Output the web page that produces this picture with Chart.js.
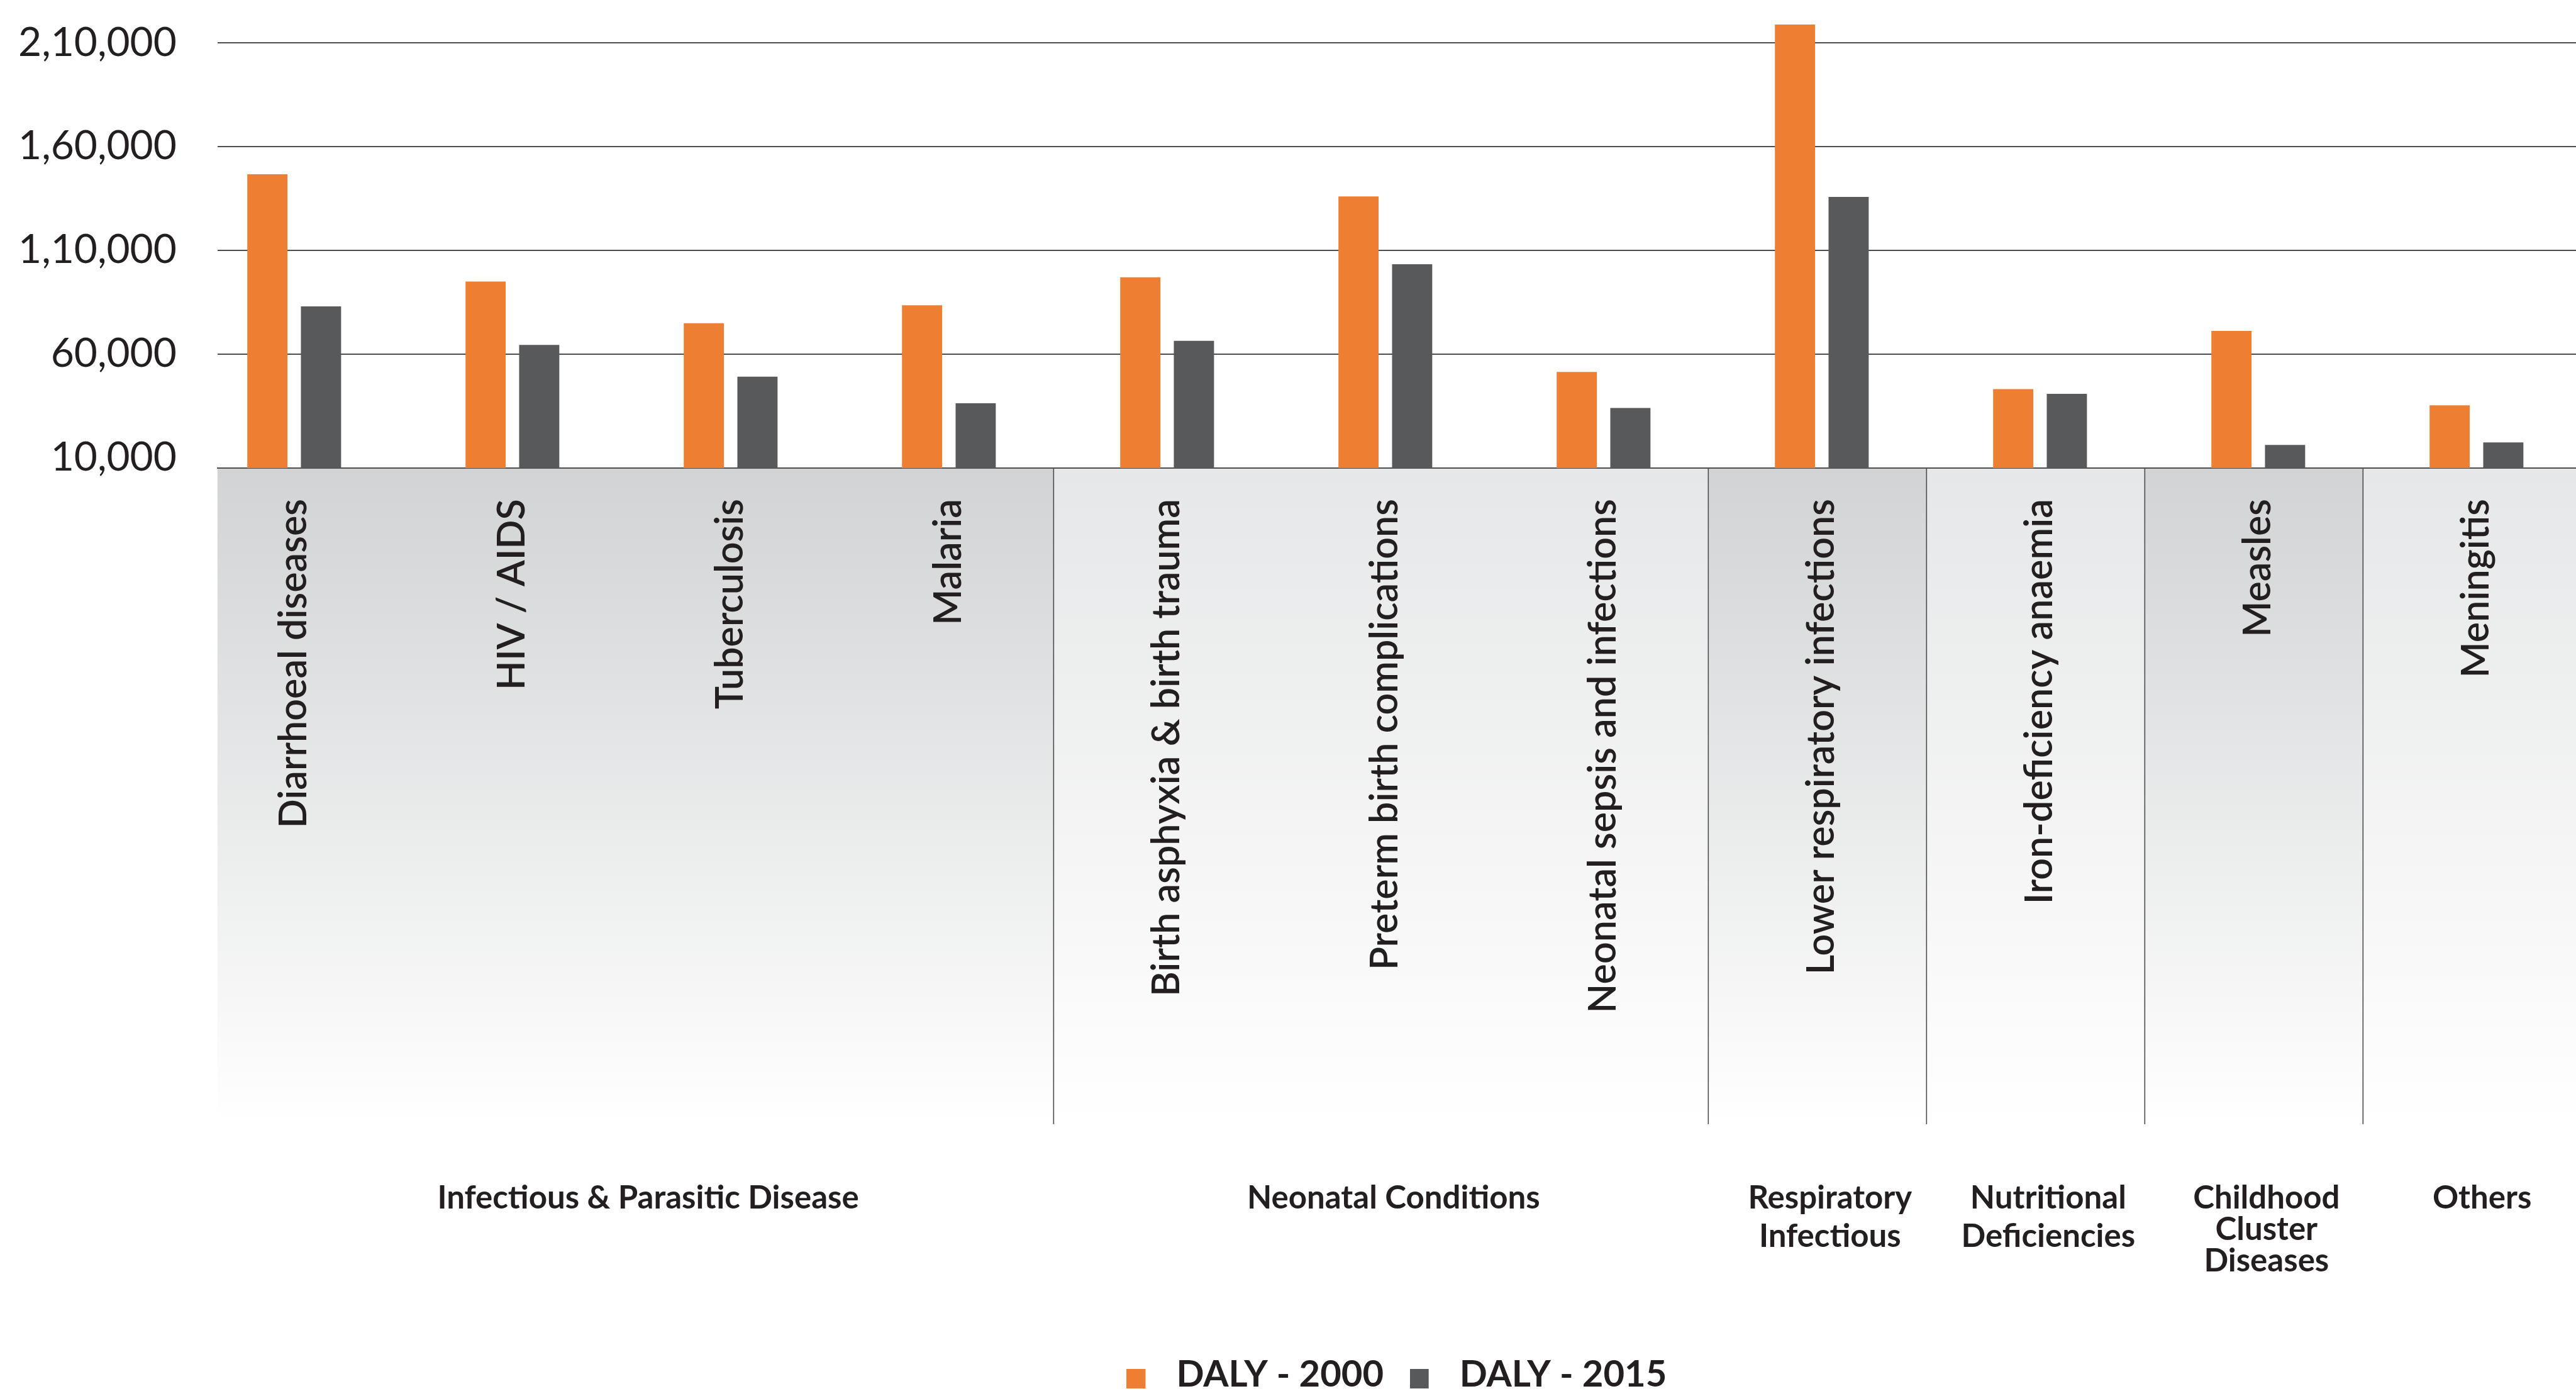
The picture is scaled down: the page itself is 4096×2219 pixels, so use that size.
<!DOCTYPE html>
<html>
<head>
<meta charset="utf-8">
<title>DALY 2000 vs 2015</title>
<script src="https://cdn.jsdelivr.net/npm/chart.js@4.4.1/dist/chart.umd.min.js"></script>
<style>
  html, body { margin: 0; padding: 0; background: #fff; overflow: hidden; }
  #wrap { width: 4096px; height: 2219px; }
</style>
</head>
<body>
<div id="wrap"><canvas id="chart" width="4096" height="2219"></canvas></div>
<script>
const categories = [
  'Diarrhoeal diseases', 'HIV / AIDS', 'Tuberculosis', 'Malaria',
  'Birth asphyxia & birth trauma', 'Preterm birth complications', 'Neonatal sepsis and infections',
  'Lower respiratory infections', 'Iron-deficiency anaemia', 'Measles', 'Meningitis',
];
const daly2000 = [146700, 95000, 74900, 83500, 97000, 136000, 51400, 218900, 43100, 71200, 35300];
const daly2015 = [83000, 64400, 49100, 36300, 66400, 103300, 34000, 135800, 40800, 16200, 17400];

// groups of categories, in order, and their (multi-line) names
const groupSizes = [4, 3, 1, 1, 1, 1];
const groupNames = [
  ['Infectious & Parasitic Disease'],
  ['Neonatal Conditions'],
  ['Respiratory', 'Infectious'],
  ['Nutritional', 'Deficiencies'],
  ['Childhood', 'Cluster', 'Diseases'],
  ['Others'],
];

const yTicks = [10000, 60000, 110000, 160000, 210000];
const yTickLabels = ['10,000', '60,000', '1,10,000', '1,60,000', '2,10,000'];

const ORANGE = '#ee7f32';
const GREY = '#58595b';
const TEXT = '#231f20';
const LINE = '#4d4d4f';

// legend swatch: square on the left, transparent gap on the right
function swatch (color) {
  const c = document.createElement('canvas');
  c.width = 50;
  c.height = 43;
  const g = c.getContext('2d');
  g.fillStyle = color;
  g.fillRect(0, 12, 30, 31);
  return c;
}

const groupBands = {
  id: 'groupBands',
  beforeDraw (chart) {
    const { ctx, chartArea, scales: { x } } = chart;
    const top = chartArea.bottom;
    const bottom = top + 1043;
    ctx.save();

    let start = 0;
    const bands = [];
    groupSizes.forEach((size, g) => {
      const end = start + size - 1;
      const left = g === 0 ? chartArea.left : x.getPixelForValue(start - 0.52);
      const right = g === groupSizes.length - 1 ? chartArea.right : x.getPixelForValue(end + 0.48);
      const fill = ctx.createLinearGradient(0, top, 0, bottom);
      fill.addColorStop(0, g % 2 === 0 ? '#d1d3d4' : '#e6e7e8');
      fill.addColorStop(1, '#ffffff');
      ctx.fillStyle = fill;
      ctx.fillRect(left, top, right - left, bottom - top);
      bands.push({ left, right });
      start += size;
    });

    // separators between groups
    ctx.strokeStyle = LINE;
    ctx.lineWidth = 1.6;
    bands.slice(1).forEach(({ left }) => {
      ctx.beginPath();
      ctx.moveTo(left, top);
      ctx.lineTo(left, bottom);
      ctx.stroke();
    });

    // group names under the bands
    ctx.fillStyle = TEXT;
    ctx.font = '700 51px Lato';
    ctx.textAlign = 'center';
    ctx.textBaseline = 'alphabetic';
    groupNames.forEach((lines, g) => {
      const cx = (bands[g].left + bands[g].right) / 2 + 20;
      const gap = lines.length > 2 ? 50 : 61;
      lines.forEach((line, k) => {
        ctx.fillText(line, cx, top + 1177 + k * gap);
      });
    });
    ctx.restore();
  },
};

const chart = new Chart(
  document.getElementById('chart'),
  {
    type: 'bar',
    data: {
      datasets: [
        {
          label: 'DALY - 2000',
          data: daly2000.map((v, i) => ({ x: i, y: v })),
          backgroundColor: ORANGE,
        },
        {
          label: 'DALY - 2015',
          data: daly2015.map((v, i) => ({ x: i, y: v })),
          backgroundColor: GREY,
        },
      ],
    },
    options: {
      responsive: false,
      animation: false,
      categoryPercentage: 0.4915,
      barPercentage: 0.749,
      layout: {
        padding: { top: 35.4, bottom: -5.5, left: 0, right: 0 },
      },
      scales: {
        x: {
          type: 'linear',
          min: -0.3515,
          max: 10.456,
          offset: false,
          grid: { display: false, drawTicks: false, offset: false },
          border: { display: true, color: LINE, width: 2 },
          afterBuildTicks (scale) {
            scale.ticks = categories.map((_, i) => ({ value: i }));
          },
          afterFit (scale) {
            scale.height = 1370.9;
          },
          ticks: {
            autoSkip: false,
            minRotation: 90,
            maxRotation: 90,
            padding: 49,
            color: TEXT,
            font: { family: 'Lato', size: 61, weight: 600 },
            callback: (v, i) => categories[i],
          },
        },
        y: {
          min: 5000,
          max: 220000,
          border: { display: false },
          grid: {
            color: (c) => (c.tick && c.tick.value === 10000 ? 'rgba(0,0,0,0)' : LINE),
            lineWidth: 2,
            drawTicks: true,
            tickLength: 65,
            tickColor: 'rgba(0,0,0,0)',
          },
          afterBuildTicks (scale) {
            scale.ticks = yTicks.map((v) => ({ value: v }));
          },
          afterFit (scale) {
            scale.width = 345.8;
          },
          ticks: {
            padding: 0,
            labelOffset: -0.5,
            color: TEXT,
            font: { family: 'Lato', size: 64, weight: 400, lineHeight: 1 },
            callback: (v, i) => yTickLabels[i],
          },
        },
      },
      plugins: {
        tooltip: { enabled: false },
        legend: {
          position: 'bottom',
          fullSize: false,
          labels: {
            usePointStyle: true,
            pointStyleWidth: 50,
            padding: 41.5,
            color: TEXT,
            font: { family: 'Lato', size: 58, weight: 700 },
            generateLabels (c) {
              const items = Chart.defaults.plugins.legend.labels.generateLabels(c);
              items.forEach((item, i) => {
                item.pointStyle = swatch(i === 0 ? ORANGE : GREY);
              });
              return items;
            },
          },
        },
      },
    },
    plugins: [groupBands],
  },
);
</script>
</body>
</html>
